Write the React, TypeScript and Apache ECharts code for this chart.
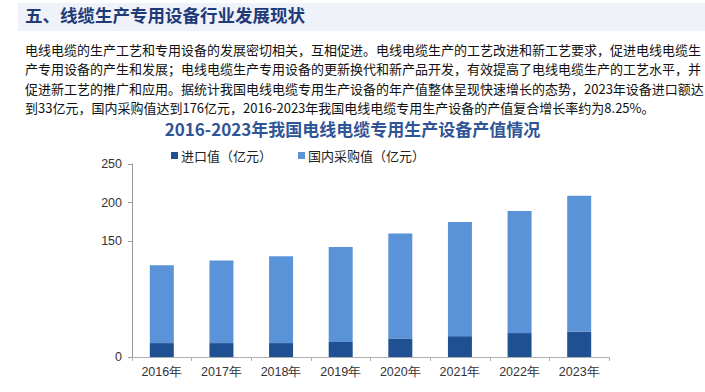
import React, { useEffect, useRef } from "react";
import * as echarts from "echarts";

const categories = ["2016年", "2017年", "2018年", "2019年", "2020年", "2021年", "2022年", "2023年"];
const importValues = [18, 18, 18, 19.5, 24, 27, 31, 33];
const domesticValues = [101, 107, 112.5, 123, 136, 148, 158, 176];
const yTickValues = [0, 150, 200, 250];
const legendNames = ["进口值（亿元）", "国内采购值（亿元）"];

const heading = "五、线缆生产专用设备行业发展现状";
const paragraphLines = [
  "电线电缆的生产工艺和专用设备的发展密切相关，互相促进。电线电缆生产的工艺改进和新工艺要求，促进电线电缆生",
  "产专用设备的产生和发展；电线电缆生产专用设备的更新换代和新产品开发，有效提高了电线电缆生产的工艺水平，并",
  "促进新工艺的推广和应用。据统计我国电线电缆专用生产设备的年产值整体呈现快速增长的态势，2023年设备进口额达",
  "到33亿元，国内采购值达到176亿元，2016-2023年我国电线电缆专用生产设备的产值复合增长率约为8.25%。",
];
const chartTitle = "2016-2023年我国电线电缆专用生产设备产值情况";

const CJK = '"Noto Sans CJK SC", "Noto Sans", sans-serif';
const LAT = '"Liberation Sans", Arial, sans-serif';

export default function App() {
  const ref = useRef<HTMLDivElement>(null);
  useEffect(() => {
    if (!ref.current) return;
    const chart = echarts.init(ref.current, null, { renderer: "svg" });
    const paraGraphics = paragraphLines.map((line, i) => ({
      type: "text",
      left: 25,
      top: 43 + i * 19.3,
      style: {
        text: line,
        font: `13px ${CJK}`,
        fill: "#111111",
      },
    }));
    chart.setOption({
      animation: false,
      backgroundColor: "#ffffff",
      title: {
        text: chartTitle,
        left: "center",
        top: 115,
        textStyle: { color: "#2f5597", fontSize: 17, fontWeight: "bold", fontFamily: CJK },
      },
      graphic: [
        {
          type: "rect",
          shape: { x: 18, y: 3, width: 687, height: 28 },
          style: { fill: "#eff2f8" },
        },
        {
          type: "text",
          left: 25,
          top: 6,
          style: { text: heading, font: `bold 17.5px ${CJK}`, fill: "#1f3a78" },
        },
        ...paraGraphics,
      ],
      legend: {
        data: legendNames,
        left: 166,
        top: 144,
        itemWidth: 7,
        itemHeight: 7,
        itemGap: 26,
        icon: "rect",
        textStyle: { fontSize: 13, color: "#222", fontFamily: CJK, padding: [0, 0, 0, -2] },
      },
      grid: { left: 132, right: 96, top: 164, bottom: 35, containLabel: false },
      xAxis: {
        type: "category",
        data: categories,
        axisLine: { lineStyle: { color: "#b0b0b0" } },
        axisTick: { show: true, alignWithLabel: false, length: 4, lineStyle: { color: "#b0b0b0" } },
        axisLabel: { color: "#333", fontSize: 12.5, fontFamily: LAT, margin: 8 },
      },
      yAxis: {
        type: "value",
        min: 0,
        max: 250,
        interval: 50,
        axisLine: { show: true, lineStyle: { color: "#9a9a9a" } },
        axisTick: { show: true, length: 4, customValues: yTickValues, lineStyle: { color: "#9a9a9a" } },
        axisLabel: { color: "#333", fontSize: 12.5, fontFamily: LAT, margin: 10, customValues: yTickValues },
        splitLine: { show: false },
      },
      series: [
        {
          name: legendNames[0],
          type: "bar",
          stack: "total",
          data: importValues,
          barWidth: 24,
          itemStyle: { color: "#1f5091" },
        },
        {
          name: legendNames[1],
          type: "bar",
          stack: "total",
          data: domesticValues,
          barWidth: 24,
          itemStyle: { color: "#5b93d8" },
        },
      ],
    });
    return () => chart.dispose();
  }, []);
  return (
    <div
      ref={ref}
      style={{ position: "fixed", left: 0, top: 0, width: 705, height: 392 }}
    />
  );
}
